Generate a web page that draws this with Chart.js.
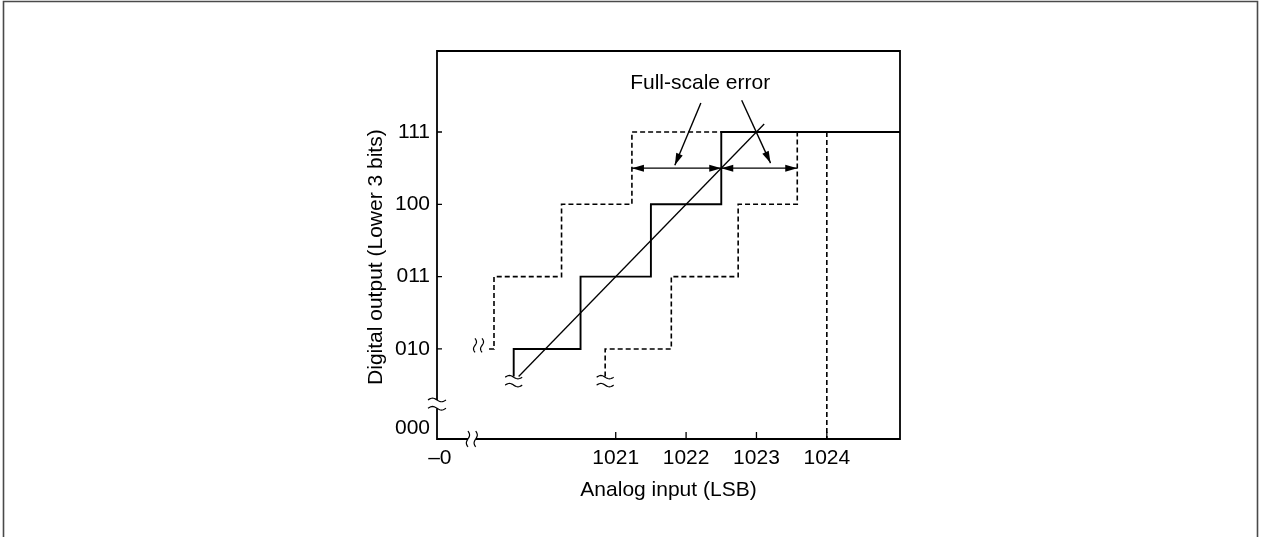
<!DOCTYPE html>
<html><head><meta charset="utf-8">
<script src="https://cdn.jsdelivr.net/npm/chart.js@4"></script>
<style>html,body{margin:0;padding:0;background:#fff;} canvas{display:block;}</style>
</head><body>
<canvas id="c" width="1261" height="537"></canvas>
<script>
// ---- axis ticks ----
const yCodes = ['000', '010', '011', '100', '111'];
const yCodePos = [-0.1, 1, 2, 3, 4];
const xTickLabels = ['\u20130', '1021', '1022', '1023', '1024'];
const xTickPos = [1018.5, 1021, 1022, 1023, 1024];
const xRange = [1018.46, 1025.04];
const yRange = [-0.245, 5.12];
const xTitle = 'Analog input (LSB)';
const yTitle = 'Digital output (Lower 3 bits)';

// ---- series (analog input LSB, output code level) ----
const actualX = [1019.55, 1019.55, 1020.5, 1021.5, 1022.5, 1025.04];
const actualY = [0.62, 1, 2, 3, 4, 4];
const earlyX = [1019.2, 1019.27, 1020.23, 1021.23, 1022.5];
const earlyY = [1, 2, 3, 4, 4];
const lateX = [1020.85, 1020.85, 1021.79, 1022.74, 1023.58];
const lateY = [0.62, 1, 2, 3, 4];
const idealLineX = [1019.62, 1023.11];
const idealLineY = [0.62, 4.11];
const fullScaleX = [1024, 1024];
const fullScaleY = [4, -0.245];

// ---- annotations ----
const errArrowY = 3.5;
const errArrows = [[1021.23, 1022.5], [1022.5, 1023.58]];
const leaders = [[1022.21, 4.40, 1021.84, 3.54], [1022.79, 4.44, 1023.20, 3.57]];
const errLabel = {text: 'Full-scale error', x: 1022.2, y: 4.67};
const yTitlePos = {x: 1017.59, y: 2.27};
const axisBreakY = [0.295, 0.18];
const axisBreakX = [1018.9, 1019.01];
const lineBreaks = [[1019.55, 0.61, 0.5], [1020.85, 0.61, 0.5]];
const earlyBreakX = [1019.0, 1019.1];
const earlyBreakY = 1.05;

const pts = (xs, ys) => xs.map((x, i) => ({x: x, y: ys[i]}));
const FONT = '"Liberation Sans", Arial, Helvetica, sans-serif';
const FS = 21;
Chart.defaults.font.family = FONT;
Chart.defaults.font.size = FS;
Chart.defaults.color = '#000';

function hTilde(ctx, cx, cy, w, a) {
  ctx.beginPath();
  for (let i = 0; i <= 20; i++) {
    const t = i / 20;
    const x = cx - w / 2 + t * w, y = cy - a * Math.sin(2 * Math.PI * t);
    i ? ctx.lineTo(x, y) : ctx.moveTo(x, y);
  }
  ctx.stroke();
}
function vTilde(ctx, cx, cy, h, a) {
  ctx.beginPath();
  for (let i = 0; i <= 20; i++) {
    const t = i / 20;
    const y = cy - h / 2 + t * h, x = cx + a * Math.sin(2 * Math.PI * t);
    i ? ctx.lineTo(x, y) : ctx.moveTo(x, y);
  }
  ctx.stroke();
}
function arrowHead(ctx, x0, y0, x1, y1, len, hw) {
  const ang = Math.atan2(y1 - y0, x1 - x0);
  ctx.beginPath();
  ctx.moveTo(x1, y1);
  ctx.lineTo(x1 - len * Math.cos(ang) + hw * Math.sin(ang), y1 - len * Math.sin(ang) - hw * Math.cos(ang));
  ctx.lineTo(x1 - len * Math.cos(ang) - hw * Math.sin(ang), y1 - len * Math.sin(ang) + hw * Math.cos(ang));
  ctx.closePath();
  ctx.fill();
}

const deco = {
  id: 'deco',
  beforeDraw(chart) {
    const ctx = chart.ctx;
    ctx.save();
    ctx.fillStyle = '#fff';
    ctx.fillRect(0, 0, chart.width, chart.height);
    ctx.strokeStyle = '#4a4a4a';
    ctx.lineWidth = 1.6;
    ctx.beginPath();
    ctx.moveTo(3.5, chart.height); ctx.lineTo(3.5, 1.5); ctx.lineTo(chart.width - 3.5, 1.5); ctx.lineTo(chart.width - 3.5, chart.height);
    ctx.stroke();
    ctx.restore();
  },
  afterDatasetsDraw(chart) {
    const ctx = chart.ctx, a = chart.chartArea;
    const xs = chart.scales.x, ys = chart.scales.y;
    const X = v => xs.getPixelForValue(v), Y = v => ys.getPixelForValue(v);
    ctx.save();
    ctx.strokeStyle = '#000'; ctx.fillStyle = '#000';
    // frame with breaks
    ctx.lineWidth = 1.8;
    const yb1 = Y(axisBreakY[0]), yb2 = Y(axisBreakY[1]);
    const xb1 = X(axisBreakX[0]), xb2 = X(axisBreakX[1]);
    ctx.beginPath();
    ctx.moveTo(a.left, yb1); ctx.lineTo(a.left, a.top); ctx.lineTo(a.right, a.top); ctx.lineTo(a.right, a.bottom); ctx.lineTo(xb2, a.bottom);
    ctx.moveTo(xb1, a.bottom); ctx.lineTo(a.left, a.bottom); ctx.lineTo(a.left, yb2);
    ctx.stroke();
    // ticks (inside)
    ctx.lineWidth = 1.3;
    ctx.beginPath();
    yCodePos.forEach((v, i) => { if (i > 0) { ctx.moveTo(a.left, Y(v)); ctx.lineTo(a.left + 5, Y(v)); } });
    xTickPos.forEach((v, i) => { if (i > 0) { ctx.moveTo(X(v), a.bottom); ctx.lineTo(X(v), a.bottom - 7); } });
    ctx.stroke();
    // axis break marks
    ctx.lineWidth = 1.2;
    hTilde(ctx, a.left, yb1, 18, 1.8);
    hTilde(ctx, a.left, yb2, 18, 1.8);
    vTilde(ctx, xb1, a.bottom, 16, 1.6);
    vTilde(ctx, xb2, a.bottom, 16, 1.6);
    // line break marks
    lineBreaks.forEach(b => { hTilde(ctx, X(b[0]), Y(b[1]), 17, 1.7); hTilde(ctx, X(b[0]), Y(b[2]), 17, 1.7); });
    earlyBreakX.forEach(x => vTilde(ctx, X(x), Y(earlyBreakY), 14, 1.5));
    // full-scale error arrows
    ctx.lineWidth = 1.4;
    errArrows.forEach(r => {
      const x0 = X(r[0]), x1 = X(r[1]), y = Y(errArrowY);
      ctx.beginPath(); ctx.moveTo(x0, y); ctx.lineTo(x1, y); ctx.stroke();
      arrowHead(ctx, x1, y, x0, y, 12, 3.5);
      arrowHead(ctx, x0, y, x1, y, 12, 3.5);
    });
    leaders.forEach(l => {
      const x0 = X(l[0]), y0 = Y(l[1]), x1 = X(l[2]), y1 = Y(l[3]);
      ctx.beginPath(); ctx.moveTo(x0, y0); ctx.lineTo(x1, y1); ctx.stroke();
      arrowHead(ctx, x0, y0, x1, y1, 12, 3.5);
    });
    ctx.font = FS + 'px ' + FONT;
    ctx.textAlign = 'center'; ctx.textBaseline = 'middle';
    ctx.fillText(errLabel.text, X(errLabel.x), Y(errLabel.y));
    // y-axis title
    ctx.translate(X(yTitlePos.x), Y(yTitlePos.y));
    ctx.rotate(-Math.PI / 2);
    ctx.fillText(yTitle, 0, 0);
    ctx.restore();
  }
};

const stepDs = (xs, ys, dash, w) => ({
  data: pts(xs, ys), showLine: true, stepped: 'before', pointRadius: 0,
  borderColor: '#000', borderWidth: w, borderDash: dash, fill: false
});

new Chart(document.getElementById('c'), {
  type: 'scatter',
  data: {
    datasets: [
      stepDs(actualX, actualY, [], 1.9),
      stepDs(earlyX, earlyY, [5, 3], 1.6),
      stepDs(lateX, lateY, [5, 3], 1.6),
      {data: pts(idealLineX, idealLineY), showLine: true, pointRadius: 0, borderColor: '#000', borderWidth: 1.3},
      {data: pts(fullScaleX, fullScaleY), showLine: true, pointRadius: 0, borderColor: '#000', borderWidth: 1.6, borderDash: [5, 3]}
    ]
  },
  options: {
    responsive: false, animation: false, devicePixelRatio: 1,
    layout: {padding: {left: 360, right: 361, top: 51, bottom: 0}},
    plugins: {legend: {display: false}, tooltip: {enabled: false}},
    scales: {
      x: {
        type: 'linear', position: 'bottom', min: xRange[0], max: xRange[1],
        border: {display: false}, grid: {display: false, drawTicks: false},
        afterBuildTicks: s => { s.ticks = xTickPos.map(v => ({value: v})); },
        ticks: {autoSkip: false, maxRotation: 0, padding: 7, callback: (v, i) => xTickLabels[i]},
        title: {display: true, text: xTitle, padding: {top: 0, bottom: 34}},
        afterFit: s => { s.height = 98; }
      },
      y: {
        type: 'linear', position: 'left', min: yRange[0], max: yRange[1],
        border: {display: false}, grid: {display: false, drawTicks: false},
        afterBuildTicks: s => { s.ticks = yCodePos.map(v => ({value: v})); },
        ticks: {autoSkip: false, padding: 7, callback: (v, i) => yCodes[i]},
        title: {display: false},
        afterFit: s => { s.width = 77; }
      }
    }
  },
  plugins: [deco]
});
</script>
</body></html>
